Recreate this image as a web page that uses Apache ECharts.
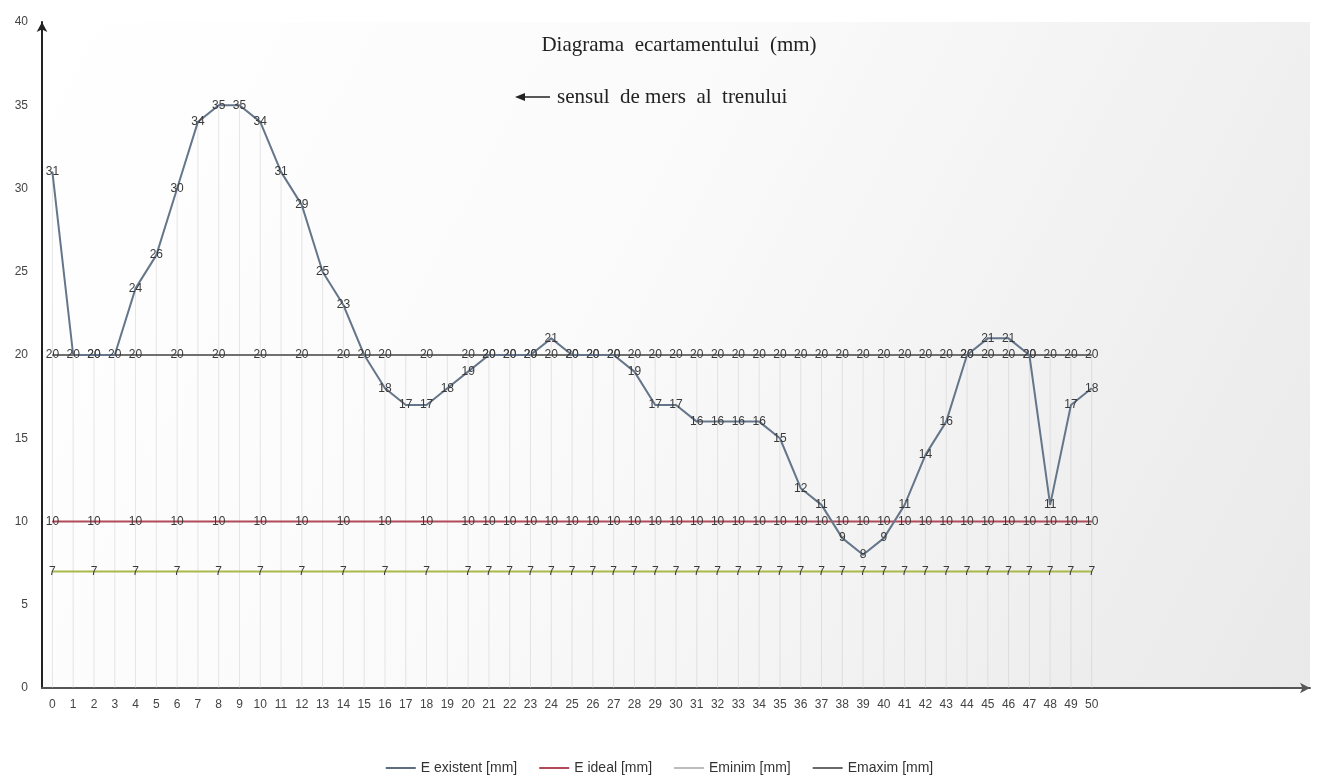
<!DOCTYPE html>
<html><head><meta charset="utf-8">
<script src="https://cdn.jsdelivr.net/npm/echarts@6/dist/echarts.min.js"></script>
<style>html,body{margin:0;padding:0;background:#fff}#c{width:1319px;height:783px}</style>
</head><body><div id="c"></div>
<script>
const categories = ['0','1','2','3','4','5','6','7','8','9','10','11','12','13','14','15','16','17','18','19','20','21','22','23','24','25','26','27','28','29','30','31','32','33','34','35','36','37','38','39','40','41','42','43','44','45','46','47','48','49','50'];
const eExistent = [31,20,20,20,24,26,30,34,35,35,34,31,29,25,23,20,18,17,17,18,19,20,20,20,21,20,20,20,19,17,17,16,16,16,16,15,12,11,9,8,9,11,14,16,20,21,21,20,11,17,18];
const eIdeal = [10,10,10,10,10,10,10,10,10,10,10,10,10,10,10,10,10,10,10,10,10,10,10,10,10,10,10,10,10,10,10,10,10,10,10,10,10,10,10,10,10,10,10,10,10,10,10,10,10,10,10];
const eMinim = [7,7,7,7,7,7,7,7,7,7,7,7,7,7,7,7,7,7,7,7,7,7,7,7,7,7,7,7,7,7,7,7,7,7,7,7,7,7,7,7,7,7,7,7,7,7,7,7,7,7,7];
const eMaxim = [20,20,20,20,20,20,20,20,20,20,20,20,20,20,20,20,20,20,20,20,20,20,20,20,20,20,20,20,20,20,20,20,20,20,20,20,20,20,20,20,20,20,20,20,20,20,20,20,20,20,20];
const yTicks = [0,5,10,15,20,25,30,35,40];
const seriesNames = ['E existent [mm]','E ideal [mm]','Eminim [mm]','Emaxim [mm]'];

// axis extends beyond last category (empty slots)
const axisCats = categories.concat(Array(10).fill(''));
const dropLines = eExistent.map((v,i)=>Math.max(v,eMaxim[i]));

const FONT = "'Liberation Sans', Arial, sans-serif";
const lbl = (sparse) => ({
  show:true, position:'inside', color:'#3a3a3a', fontSize:12, fontFamily:FONT,
  formatter: p => (sparse && p.dataIndex < 20 && p.dataIndex % 2) ? '' : String(p.value)
});
const lineS = (name, data, color, sparse, z) => ({
  name, type:'line', data, symbol:'circle', symbolSize:1, showSymbol:true, itemStyle:{color},
  lineStyle:{color, width:2}, label:lbl(sparse), labelLayout:{hideOverlap:false}, z, emphasis:{disabled:true}, animation:false
});

const chart = echarts.init(document.getElementById('c'));
chart.setOption({
  backgroundColor:'#fff',
  animation:false,
  grid:{left:42,right:9,top:22,bottom:95,show:true,borderWidth:0,
    backgroundColor:new echarts.graphic.LinearGradient(0,0,1,1,[{offset:0,color:'#ffffff'},{offset:0.45,color:'#fafafa'},{offset:1,color:'#e9e9e9'}])},
  legend:{
    bottom:3, left:'center', itemGap:22, itemWidth:30, itemHeight:2, icon:'rect',
    textStyle:{fontFamily:FONT,fontSize:14,color:'#333'},
    data:[
      {name:seriesNames[0], itemStyle:{color:'#5f6e7e'}},
      {name:seriesNames[1], itemStyle:{color:'#b24a5a'}},
      {name:seriesNames[2], itemStyle:{color:'#bdbdbd'}},
      {name:seriesNames[3], itemStyle:{color:'#6a6a6a'}}
    ]
  },
  xAxis:{type:'category', data:axisCats, boundaryGap:true,
    axisLine:{lineStyle:{color:'#555',width:2}, symbol:['none','arrow'], symbolSize:[8,10]},
    axisTick:{show:false},
    axisLabel:{color:'#444',fontSize:12,fontFamily:FONT,margin:11,interval:0},
    splitLine:{show:false}},
  yAxis:{type:'value', min:yTicks[0], max:yTicks[yTicks.length-1], interval:5,
    axisLine:{show:true,lineStyle:{color:'#222',width:2}, symbol:['none','arrow'], symbolSize:[8,10]},
    axisTick:{show:false},
    axisLabel:{color:'#444',fontSize:12,fontFamily:FONT,margin:14},
    splitLine:{show:false}},
  graphic:[
    {type:'text', style:{x:679,y:45,text:'Diagrama  ecartamentului  (mm)',fontFamily:"'Liberation Serif', serif",fontSize:21,fill:'#222',textAlign:'center',textVerticalAlign:'middle'}},
    {type:'text', style:{x:557,y:97,text:'sensul  de mers  al  trenului',fontFamily:"'Liberation Serif', serif",fontSize:21,fill:'#222',textAlign:'left',textVerticalAlign:'middle'}},
    {type:'line', shape:{x1:520,y1:97,x2:550,y2:97}, style:{stroke:'#222',lineWidth:1.5}},
    {type:'polygon', shape:{points:[[515,97],[525,93],[525,101]]}, style:{fill:'#222'}}
  ],
  series:[
    {name:'drop', type:'bar', data:dropLines, barWidth:1, itemStyle:{color:'rgba(200,200,200,0.45)'}, z:1, silent:true, legendHoverLink:false},
    lineS(seriesNames[0], eExistent, '#66768a', false, 5),
    lineS(seriesNames[1], eIdeal, '#b24a5a', true, 4),
    lineS(seriesNames[2], eMinim, '#a9b94a', true, 4),
    lineS(seriesNames[3], eMaxim, '#707070', true, 3)
  ]
});
</script></body></html>
